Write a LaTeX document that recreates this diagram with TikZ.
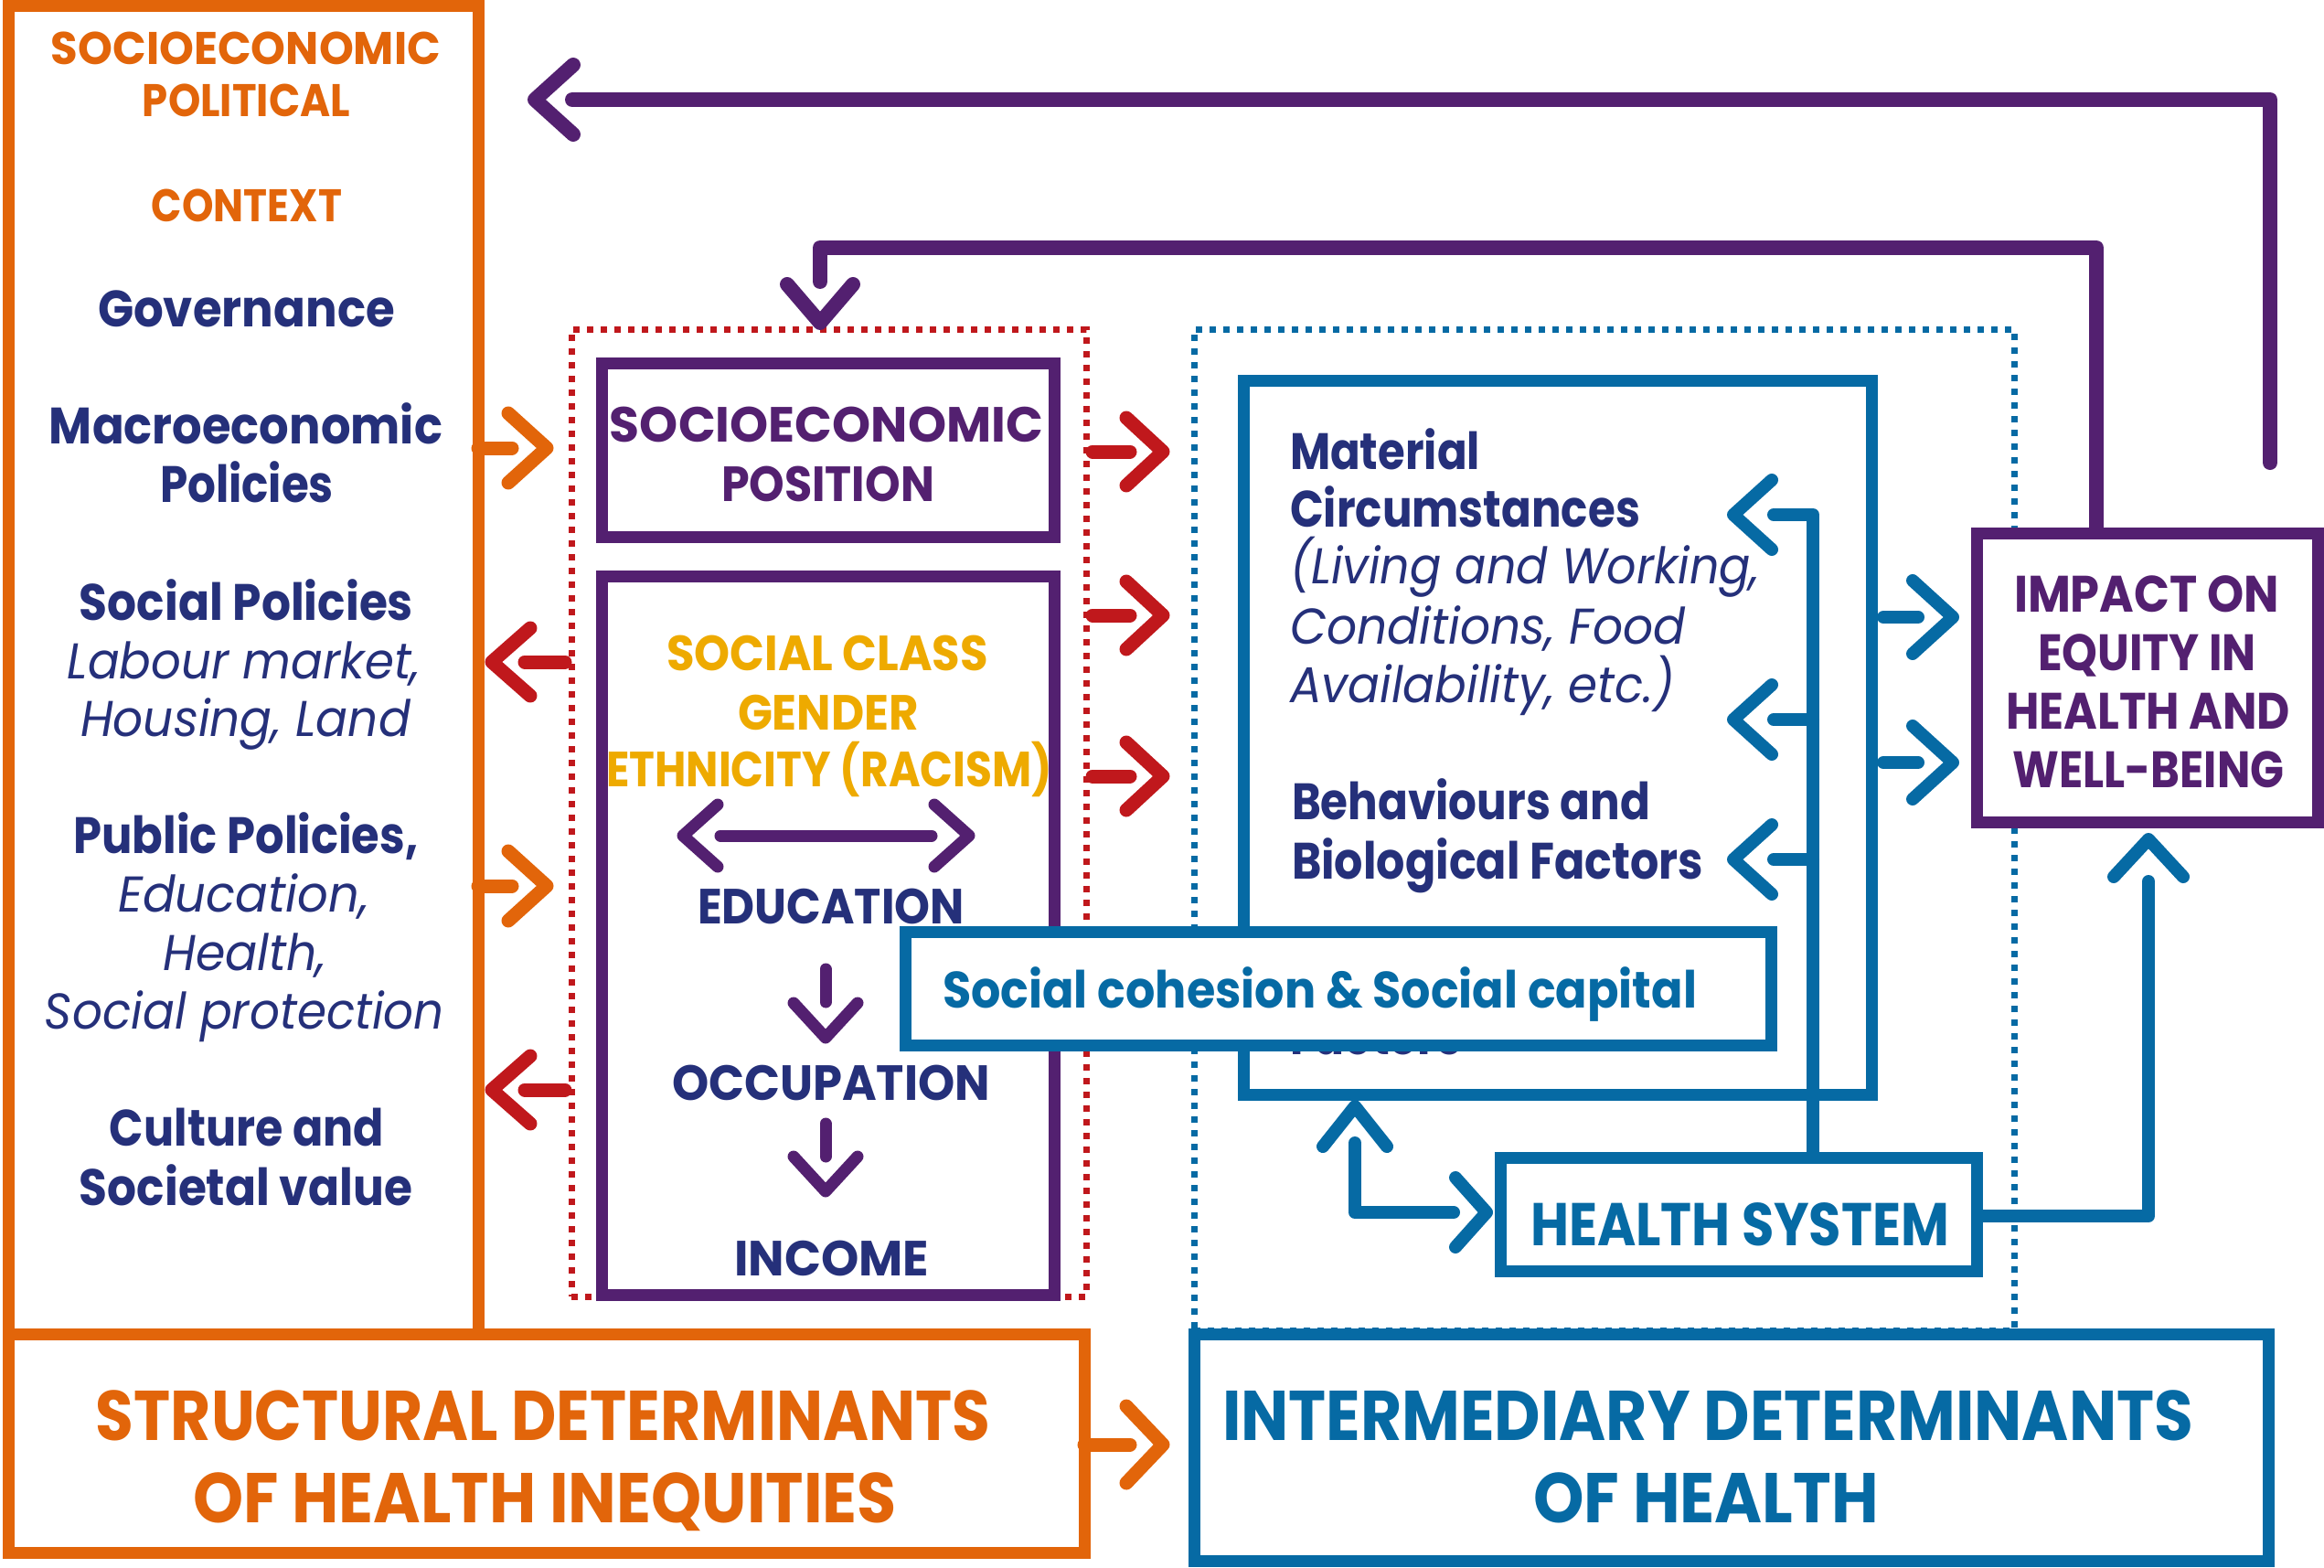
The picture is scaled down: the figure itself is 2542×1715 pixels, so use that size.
\documentclass[tikz,border=0pt]{standalone}
\usepackage{fontspec}
\setmainfont{Poppins}
\usepackage{graphicx}
\usetikzlibrary{calc}
\definecolor{cOr}{HTML}{E2650A}
\definecolor{cPur}{HTML}{532070}
\definecolor{cNavy}{HTML}{25307A}
\definecolor{cRed}{HTML}{C0181C}
\definecolor{cGold}{HTML}{EEAA00}
\definecolor{cBlue}{HTML}{066AA4}
\newcommand\fsz[1]{\fontsize{#1}{#1}\selectfont}
\newcommand\fw[2]{\resizebox{#1pt}{\height}{#2}}
\newcommand\chevR[4]{\draw[chev,#1] (#2) ++(-#3,-#4) -- (#2) -- ++(-#3,#4);}
\newcommand\chevL[4]{\draw[chev,#1] (#2) ++(#3,-#4) -- (#2) -- ++(#3,#4);}
\newcommand\chevU[4]{\draw[chev,#1] (#2) ++(-#4,#3) -- (#2) -- ++(#4,#3);}
\newcommand\chevD[4]{\draw[chev,#1] (#2) ++(-#4,-#3) -- (#2) -- ++(#4,-#3);}
\tikzset{
  box/.style={draw, line width=13pt, fill=white, inner sep=0pt, outer sep=0pt},
  dotbox/.style={draw, line width=7pt, dash pattern=on 7pt off 8pt, inner sep=0pt, outer sep=0pt},
  chev/.style={line width=15pt, line cap=round, line join=round},
  shaft/.style={line width=15pt, line cap=round, line join=round},
  lbl/.style={anchor=base, inner sep=0pt, outer sep=0pt},
  lblw/.style={anchor=base west, inner sep=0pt, outer sep=0pt},
  tOr/.style={text=cOr, font=\fsz{50}\bfseries},
  tNb/.style={text=cNavy, font=\fsz{56}\bfseries},
  tNi/.style={text=cNavy, font=\fsz{55}\itshape},
  tPu/.style={text=cPur, font=\fsz{54}\bfseries},
  tGo/.style={text=cGold, font=\fsz{54}\bfseries},
  tBl/.style={text=cBlue, font=\fsz{56}\bfseries},
}
\begin{document}
\begin{tikzpicture}[x=1pt,y=-1pt]
\fill[white] (0,0) rectangle (2542,1715);
\useasboundingbox (0,0) rectangle (2542,1715);

% dotted groups
\node[dotbox, draw=cRed, minimum width=563pt, minimum height=1058pt] (reddot) at (906.5,889) {};
\node[dotbox, draw=cBlue, minimum width=897pt, minimum height=1095pt] (bluedot) at (1754.5,907.5) {};

% main orange / blue frames
\node[box, draw=cOr, fill=none, minimum width=514pt, minimum height=1452pt] (leftbox) at (266,733) {};
\node[box, draw=cOr, minimum width=1177pt, minimum height=239pt] (struct) at (597.5,1578.5) {};
\node[box, draw=cBlue, minimum width=1175pt, minimum height=248pt] (inter) at (1893.5,1583) {};

% inner boxes
\node[box, draw=cPur, minimum width=495pt, minimum height=190pt] (sep) at (905.5,492) {};
\node[box, draw=cPur, minimum width=495pt, minimum height=786pt] (ses) at (905.5,1023) {};
\node[box, draw=cBlue, minimum width=687pt, minimum height=781pt] (mat) at (1703.5,806.5) {};

% left box texts
\node[lbl,tOr] (l1) at (269,71) {\fw{426}{SOCIOECONOMIC}};
\node[lbl,tOr] (l2) at (269.5,128) {\fw{227}{POLITICAL}};
\node[lbl,tOr] (l3) at (270,243) {\fw{208}{CONTEXT}};
\node[lbl,tNb] (l4) at (269.5,357) {\fw{325}{Governance}};
\node[lbl,tNb] (l5) at (269,485) {\fw{430}{Macroeconomic}};
\node[lbl,tNb] (l6) at (270,549) {\fw{190}{Policies}};
\node[lbl,tNb] (l7) at (269.5,678) {\fw{365}{Social Policies}};
\node[lbl,tNi] (l8) at (267,742) {\fw{386}{Labour market,}};
\node[lbl,tNi] (l9) at (268.5,805) {\fw{361}{Housing, Land}};
\node[lbl,tNb] (l10) at (269,933) {\fw{377}{Public Policies,}};
\node[lbl,tNi] (l11) at (266.5,997) {\fw{275}{Education,}};
\node[lbl,tNi] (l12) at (267.5,1061) {\fw{179}{Health,}};
\node[lbl,tNi] (l13) at (267.5,1125) {\fw{437}{Social protection}};
\node[lbl,tNb] (l14) at (270,1253) {\fw{300}{Culture and}};
\node[lbl,tNb] (l15) at (269,1318) {\fw{364}{Societal value}};

% socioeconomic position texts
\node[lbl,tPu] (s1) at (904,483) {\fw{474}{SOCIOECONOMIC}};
\node[lbl,tPu] (s2) at (905.5,548) {\fw{233}{POSITION}};
\node[lbl,tGo] (s3) at (905,733) {\fw{352}{SOCIAL CLASS}};
\node[lbl,tGo] (s4) at (906,798) {\fw{198}{GENDER}};
\node[lbl,tGo] (s5) at (907,860) {\fw{488}{ETHNICITY (RACISM)}};
\node[lbl,tNb,font=\fsz{54}\bfseries] (s6) at (909,1010) {\fw{292}{EDUCATION}};
\node[lbl,tNb,font=\fsz{54}\bfseries] (s7) at (909,1203) {\fw{348}{OCCUPATION}};
\node[lbl,tNb,font=\fsz{54}\bfseries] (s8) at (909.5,1395) {\fw{213}{INCOME}};

% material box texts
\node[lblw,tNb] (m1) at (1411,513) {\fw{208}{Material}};
\node[lblw,tNb] (m2) at (1411,576) {\fw{383}{Circumstances}};
\node[lblw,tNi] (m3) at (1411,638) {\fw{514}{(Living and Working,}};
\node[lblw,tNi] (m4) at (1411,704) {\fw{433}{Conditions, Food}};
\node[lblw,tNi] (m5) at (1411,768) {\fw{421}{Availability, etc.)}};
\node[lblw,tNb] (m6) at (1413,896) {\fw{392}{Behaviours and}};
\node[lblw,tNb] (m7) at (1413,961) {\fw{450}{Biological Factors}};
\node[lblw,tNb] (m8) at (1411,1153) {\fw{188}{Factors}};

% bottom texts
\node[lbl,text=cOr,font=\fsz{77}\bfseries] (b1) at (594,1575) {\fw{978}{STRUCTURAL DETERMINANTS}};
\node[lbl,text=cOr,font=\fsz{77}\bfseries] (b2) at (596,1665) {\fw{770}{OF HEALTH INEQUITIES}};
\node[lbl,text=cBlue,font=\fsz{77}\bfseries] (b3) at (1868,1575) {\fw{1062}{INTERMEDIARY DETERMINANTS}};
\node[lbl,text=cBlue,font=\fsz{77}\bfseries] (b4) at (1866,1665) {\fw{378}{OF HEALTH}};

% ---- connectors ----
% orange arrows from context
\coordinate (oa1) at (598,490);
\coordinate (oa2) at (598,969);
\coordinate (oa3) at (1272,1580);
\draw[shaft,draw=cOr] (leftbox.east |- oa1) -- ($(oa1)+(-38,0)$);
\chevR{draw=cOr}{oa1}{42}{38}
\draw[shaft,draw=cOr] (leftbox.east |- oa2) -- ($(oa2)+(-38,0)$);
\chevR{draw=cOr}{oa2}{42}{38}
\draw[shaft,draw=cOr] (struct.east |- oa3) -- ($(oa3)+(-36,0)$);
\chevR{draw=cOr}{oa3}{40}{42}

% red arrows
\coordinate (ra1) at (1272,494);
\coordinate (ra2) at (1272,673);
\coordinate (ra3) at (1272,849);
\coordinate (la1) at (538,724);
\coordinate (la2) at (538,1192);
\foreach \c in {ra1,ra2,ra3}{
  \draw[shaft,draw=cRed] ($(reddot.east |- \c)+(7,0)$) -- ($(\c)+(-36,0)$);
  \chevR{draw=cRed}{\c}{40}{37}
}
\foreach \c in {la1,la2}{
  \draw[shaft,draw=cRed] ($(reddot.west |- \c)+(-7,0)$) -- ($(\c)+(36,0)$);
  \chevL{draw=cRed}{\c}{42}{37}
}

% purple feedback arrows
\coordinate (fb1a) at (2483,506);
\coordinate (fb1b) at (2483,109);
\coordinate (fb1t) at (585,109);
\draw[shaft,draw=cPur,line width=16pt] (fb1a) -- (fb1b) -- ($(fb1t)+(41,0)$);
\chevL{draw=cPur,line width=16pt}{fb1t}{42}{38}
\coordinate (fb2b) at (2293,271);
\coordinate (fb2c) at (897,271);
\coordinate (fb2t) at (897,353);
\draw[shaft,draw=cPur,line width=16pt] ($(fb2b |- sep.north)+(0,190)$) -- (fb2b) -- (fb2c) -- ($(fb2t)+(0,-45)$);
\chevD{draw=cPur,line width=16pt}{fb2t}{42}{36}

% purple arrows inside social position box
\coordinate (da1) at (747,914);
\coordinate (da2) at (1060,914);
\draw[shaft,draw=cPur,line width=13pt] ($(da1)+(41,0)$) -- ($(da2)+(-41,0)$);
\chevL{draw=cPur,line width=13pt}{da1}{38}{34}
\chevR{draw=cPur,line width=13pt}{da2}{38}{34}
\coordinate (dn1) at (903,1135);
\coordinate (dn2) at (903,1303);
\draw[shaft,draw=cPur,line width=13pt] ($(dn1)+(0,-75)$) -- ($(dn1)+(0,-39)$);
\chevD{draw=cPur,line width=13pt}{dn1}{38}{35}
\draw[shaft,draw=cPur,line width=13pt] ($(dn2)+(0,-74)$) -- ($(dn2)+(0,-38)$);
\chevD{draw=cPur,line width=13pt}{dn2}{38}{35}

% blue arrows
\coordinate (bv) at (1983,563);
\coordinate (bl1) at (1896,563);
\coordinate (bl2) at (1896,787);
\coordinate (bl3) at (1896,940);
\coordinate (br1) at (2136,675);
\coordinate (br2) at (2136,834);
\coordinate (bu) at (2350,918);
\coordinate (hsr) at (2350,1330);
\coordinate (cu) at (1482,1210);
\coordinate (cr) at (1626,1326);
\coordinate (cc) at (1482,1326);
\draw[shaft,draw=cBlue,line width=14pt] (bv |- 0,1270) -- (bv) -- ($(bl1)+(44,0)$);
\draw[shaft,draw=cBlue,line width=14pt] (bv |- bl2) -- ($(bl2)+(44,0)$);
\draw[shaft,draw=cBlue,line width=14pt] (bv |- bl3) -- ($(bl3)+(44,0)$);
\foreach \c in {bl1,bl2,bl3}{\chevL{draw=cBlue,line width=14pt}{\c}{42}{38}}
\foreach \c in {br1,br2}{
  \draw[shaft,draw=cBlue,line width=14pt] ($(mat.east |- \c)+(13,0)$) -- ($(\c)+(-38,0)$);
  \chevR{draw=cBlue,line width=14pt}{\c}{44}{40}
}
\draw[shaft,draw=cBlue,line width=14pt] (2169,1330) -- (hsr) -- ($(bu)+(0,46)$);
\chevU{draw=cBlue,line width=14pt}{bu}{41}{38}
\draw[shaft,draw=cBlue,line width=14pt] ($(cu)+(0,40)$) -- (cc) -- ($(cr)+(-36,0)$);
\chevU{draw=cBlue,line width=14pt}{cu}{44}{35}
\chevR{draw=cBlue,line width=14pt}{cr}{34}{38}

% overlaid boxes
\node[box, draw=cBlue, minimum width=947pt, minimum height=124pt] (coh) at (1463.5,1081) {};
\node[lblw,tBl] (cohT) at (1031,1102) {\fw{825}{Social cohesion \& Social capital}};
\node[box, draw=cBlue, minimum width=521pt, minimum height=124pt] (hs) at (1901.5,1328) {};
\node[lbl,text=cBlue,font=\fsz{66}\bfseries] (hsT) at (1903,1362) {\fw{458}{HEALTH SYSTEM}};
\node[box, draw=cPur, minimum width=373pt, minimum height=316pt] (imp) at (2348.5,741) {};
\node[lbl,tPu,font=\fsz{56}\bfseries] (i1) at (2348,669) {\fw{290}{IMPACT ON}};
\node[lbl,tPu,font=\fsz{56}\bfseries] (i2) at (2348.5,733) {\fw{239}{EQUITY IN}};
\node[lbl,tPu,font=\fsz{56}\bfseries] (i3) at (2349.5,797) {\fw{311}{HEALTH AND}};
\node[lbl,tPu,font=\fsz{56}\bfseries] (i4) at (2350,861) {\fw{297}{WELL-BEING}};
\end{tikzpicture}
\end{document}
